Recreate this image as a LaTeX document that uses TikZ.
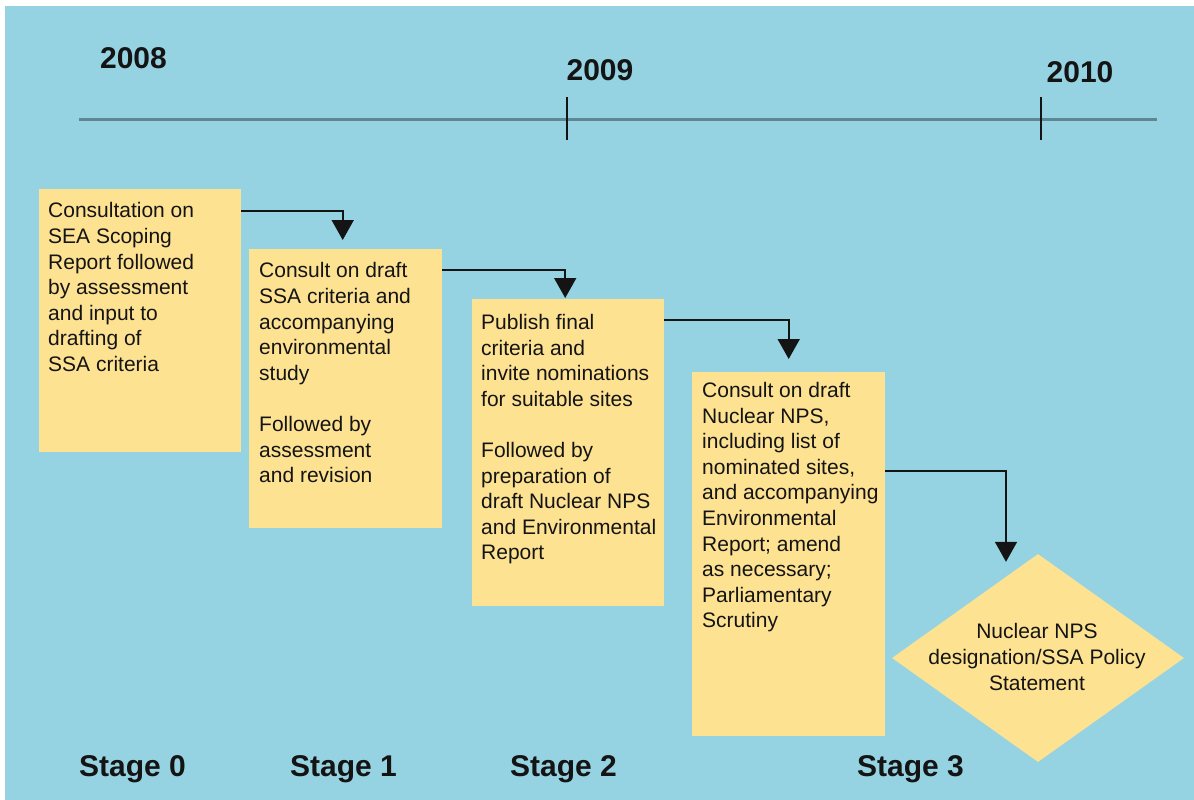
\documentclass[tikz,border=0pt]{standalone}
\usepackage{fontspec}
\setmainfont{Liberation Sans}
\usetikzlibrary{arrows.meta,shapes.geometric,calc}
\definecolor{bgblue}{RGB}{150,211,226}
\definecolor{boxyel}{RGB}{253,226,146}
\definecolor{tlgrey}{RGB}{95,135,145}
\definecolor{ink}{RGB}{20,20,20}
\tikzset{
  stagebox/.style={fill=boxyel, draw=none, inner sep=0pt, anchor=north west},
  boxtext/.style={anchor=north west, inner sep=0pt, align=left, text=ink,
    font=\fontsize{21}{25.6}\selectfont},
  yearlabel/.style={anchor=base, inner sep=0pt, text=ink,
    font=\fontsize{30}{36}\selectfont\bfseries},
  stagelabel/.style={anchor=base, inner sep=0pt, text=ink,
    font=\fontsize{30}{36}\selectfont\bfseries},
  flowarrow/.style={draw=ink, line width=1.8pt, -{Triangle[width=22pt,length=20pt]}},
  timeline/.style={draw=tlgrey, line width=3pt},
  tick/.style={draw=ink, line width=1.3pt}
}
\begin{document}
\begin{tikzpicture}[x=1pt,y=-1pt]
\useasboundingbox (0,0) rectangle (1194,800);
\fill[white] (0,0) rectangle (1194,800);
\fill[bgblue] (5,6) rectangle (1194,800);

% timeline
\draw[timeline] (79,119) -- (1157,119);
\draw[tick] (567,97) -- (567,140);
\draw[tick] (1041,97) -- (1041,140);
\node[yearlabel] (y2008) at (133.5,69) {2008};
\node[yearlabel] (y2009) at (600,81) {2009};
\node[yearlabel] (y2010) at (1080,82) {2010};

% boxes
\node[stagebox, minimum width=202pt, minimum height=263pt] (b0) at (39,189) {};
\node[stagebox, minimum width=193pt, minimum height=279pt] (b1) at (249,249) {};
\node[stagebox, minimum width=192pt, minimum height=307pt] (b2) at (472,299) {};
\node[stagebox, minimum width=193pt, minimum height=364pt] (b3) at (692,372) {};
\node[diamond, fill=boxyel, inner sep=0pt, minimum width=292pt, minimum height=208pt] (d) at (1038,658) {};

\node[boxtext] (t0) at ($(b0.north west)+(9,13.5)$) {Consultation on\\SEA Scoping\\Report followed\\by assessment\\and input to\\drafting of\\SSA criteria};
\node[boxtext] (t1) at ($(b1.north west)+(10,13.5)$) {Consult on draft\\SSA criteria and\\accompanying\\environmental\\study\\[25.6pt]Followed by\\assessment\\and revision};
\node[boxtext] (t2) at ($(b2.north west)+(9,15)$) {Publish final\\criteria and\\invite nominations\\for suitable sites\\[25.6pt]Followed by\\preparation of\\draft Nuclear NPS\\and Environmental\\Report};
\node[boxtext] (t3) at ($(b3.north west)+(10,10)$) {Consult on draft\\Nuclear NPS,\\including list of\\nominated sites,\\and accompanying\\Environmental\\Report; amend\\as necessary;\\Parliamentary\\Scrutiny};
\node[boxtext, anchor=north, align=center] (td) at (1037,623.5) {Nuclear NPS\\designation/SSA Policy\\Statement};

% arrows
\draw[flowarrow] (b0.east |- 0,211) -| ($(b1.north)+(-3,-9)$);
\draw[flowarrow] (b1.east |- 0,270) -| ($(b2.north)+(-3,-1)$);
\draw[flowarrow] (b2.east |- 0,320) -| ($(b3.north)+(0,-13)$);
\draw[flowarrow] (b3.east |- 0,471) -| ($(d.north)+(-32,8)$);

% stage labels
\node[stagelabel] (s0) at (132.5,776) {Stage 0};
\node[stagelabel] (s1) at (343.5,776) {Stage 1};
\node[stagelabel] (s2) at (563.5,776) {Stage 2};
\node[stagelabel] (s3) at (910.5,776) {Stage 3};
\end{tikzpicture}
\end{document}
